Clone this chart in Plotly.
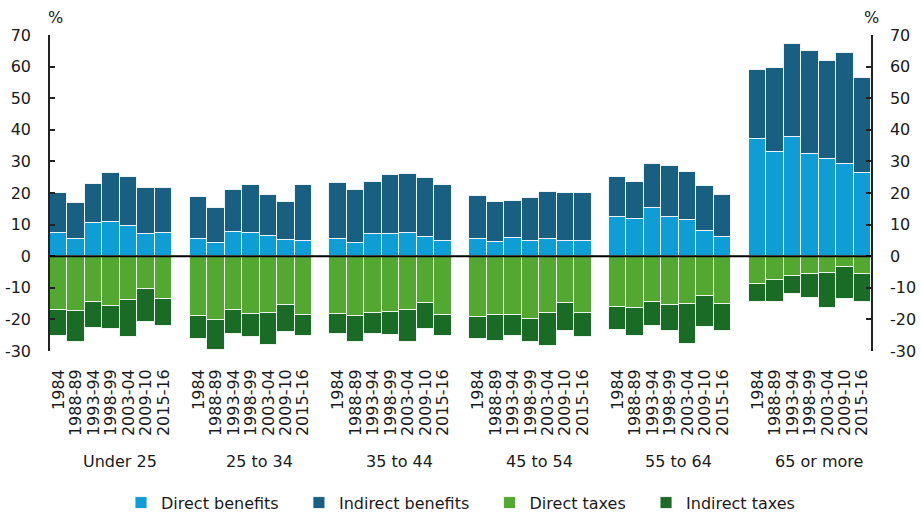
import plotly.graph_objects as go

groups = ["Under 25", "25 to 34", "35 to 44", "45 to 54", "55 to 64", "65 or more"]
years = ["1984", "1988-89", "1993-94", "1998-99", "2003-04", "2009-10", "2015-16"]

# Direct benefits (% of income), per group, per year
direct_benefits = [
    [7.2, 5.6, 10.4, 10.7, 9.7, 7.0, 7.2],
    [5.3, 4.3, 7.6, 7.5, 6.5, 5.0, 4.8],
    [5.3, 4.3, 6.9, 6.9, 7.2, 6.2, 4.8],
    [5.4, 4.6, 5.7, 4.8, 5.6, 4.8, 4.8],
    [12.3, 11.9, 15.1, 12.3, 11.4, 7.9, 6.0],
    [37.1, 32.9, 37.6, 32.2, 30.9, 29.3, 26.3],
]
# Total benefits (top of stacked bar)
total_benefits = [
    [19.9, 16.7, 23.0, 26.2, 25.1, 21.6, 21.5],
    [18.6, 15.4, 20.9, 22.4, 19.5, 17.0, 22.5],
    [23.3, 21.1, 23.6, 25.8, 25.9, 24.8, 22.4],
    [19.1, 17.1, 17.6, 18.3, 20.2, 20.0, 19.9],
    [25.0, 23.6, 29.2, 28.4, 26.5, 22.1, 19.3],
    [58.9, 59.6, 67.0, 64.8, 61.9, 64.2, 56.3],
]
# Direct taxes (negative)
direct_taxes = [
    [-16.9, -17.4, -14.5, -15.7, -14.0, -10.4, -13.6],
    [-18.9, -20.3, -17.1, -18.4, -18.0, -15.3, -18.5],
    [-18.3, -18.9, -18.0, -17.6, -17.0, -14.9, -18.6],
    [-19.2, -18.6, -18.7, -19.8, -17.9, -14.8, -17.9],
    [-16.0, -16.4, -14.4, -15.3, -15.0, -12.6, -15.1],
    [-8.7, -7.5, -6.2, -5.5, -5.3, -3.4, -5.6],
]
# Total taxes (bottom of stacked bar)
total_taxes = [
    [-25.2, -27.1, -22.8, -22.9, -25.5, -20.9, -22.1],
    [-26.3, -29.7, -24.5, -25.5, -28.0, -23.9, -25.2],
    [-24.7, -27.3, -24.5, -24.8, -27.0, -23.1, -25.2],
    [-26.1, -26.9, -25.3, -27.0, -28.5, -23.7, -25.5],
    [-23.5, -25.3, -22.2, -23.8, -27.8, -22.5, -23.7],
    [-14.5, -14.4, -12.1, -13.3, -16.4, -13.4, -14.5],
]

y_ticks = [-30, -20, -10, 0, 10, 20, 30, 40, 50, 60, 70]
y_ticktext = ["-30", "-20", "-10", "0", "10", "20", "30", "40", "50", "60", "70"]

colors = {
    "Direct benefits": "#0F9DD5",
    "Indirect benefits": "#185F82",
    "Direct taxes": "#52A830",
    "Indirect taxes": "#1A6B26",
}

# Build category list with a spacer slot between groups
cats = []
x_keys = []
for gi, g in enumerate(groups):
    for y in years:
        key = f"{g}|{y}"
        cats.append(key)
        x_keys.append(key)
    if gi < len(groups) - 1:
        cats.append(f"gap{gi}")

def flat(arr):
    return [v for row in arr for v in row]

db = flat(direct_benefits)
ib = [t - d for t, d in zip(flat(total_benefits), db)]
dt = flat(direct_taxes)
it = [t - d for t, d in zip(flat(total_taxes), dt)]

font = "DejaVu Sans, sans-serif"
txt = "#1a1a1a"
pad = "\u00a0" * 3
fig = go.Figure()
series = [("Direct benefits", db), ("Indirect benefits", ib),
          ("Direct taxes", dt), ("Indirect taxes", it)]
for i, (name, vals) in enumerate(series):
    fig.add_trace(go.Bar(
        x=x_keys, y=vals, name=name + (pad if i < len(series) - 1 else ""),
        marker=dict(color=colors[name], line=dict(color="rgba(255,255,255,0.85)", width=1)),
    ))

fig.add_trace(go.Scatter(x=[x_keys[0]], y=[0], yaxis="y2", showlegend=False,
                         mode="markers", marker=dict(opacity=0), hoverinfo="skip"))

tickvals = x_keys
ticktext = [k.split("|")[1] for k in x_keys]

axis_common = dict(range=[-30, 70], tickvals=y_ticks, ticktext=y_ticktext,
                   showgrid=False, zeroline=False, showline=True, linecolor="#222",
                   linewidth=1.5, ticks="inside", ticklen=5, tickcolor="#222",
                   tickwidth=1.5, automargin=False, ticklabelstandoff=14,
                   tickfont=dict(size=16, color=txt, family=font))

fig.update_layout(
    template="none",
    barmode="relative",
    bargap=0,
    width=922, height=519,
    margin=dict(l=50, r=51, t=35, b=168, autoexpand=False),
    plot_bgcolor="white", paper_bgcolor="white",
    font=dict(family=font, color=txt),
    xaxis=dict(type="category", categoryorder="array", categoryarray=cats,
               range=[-0.5, len(cats) - 0.5], tickvals=tickvals, ticktext=ticktext,
               tickangle=-90, showgrid=False, showline=False, ticks="",
               automargin=False, ticklabelstandoff=14, zeroline=False,
               tickfont=dict(size=16, color=txt, family=font)),
    yaxis=dict(side="left", **axis_common),
    yaxis2=dict(side="right", overlaying="y", **axis_common),
    legend=dict(orientation="h", x=0.5, xanchor="center", y=-0.48, yanchor="middle",
                font=dict(size=16, color=txt, family=font), traceorder="normal",
                bgcolor="rgba(0,0,0,0)"),
    showlegend=True,
)

fig.add_shape(type="line", xref="paper", yref="y", x0=0, x1=1, y0=0, y1=0,
              line=dict(color="black", width=2))

for gi, g in enumerate(groups):
    fig.add_annotation(x=gi * (len(years) + 1) + (len(years)) / 2, y=-0.351,
                       xref="x", yref="paper", text=g, showarrow=False,
                       font=dict(size=16, color=txt, family=font), yanchor="middle")

fig.add_annotation(x=0.007, y=1.055, xref="paper", yref="paper", text="%", showarrow=False,
                   xanchor="center", yanchor="middle", font=dict(size=16, family=font, color=txt))
fig.add_annotation(x=1.0, y=1.055, xref="paper", yref="paper", text="%", showarrow=False,
                   xanchor="center", yanchor="middle", font=dict(size=16, family=font, color=txt))

fig.write_html("out.html", config={"displayModeBar": False},
               post_script="document.body.style.margin='0';document.body.style.padding='0';")
